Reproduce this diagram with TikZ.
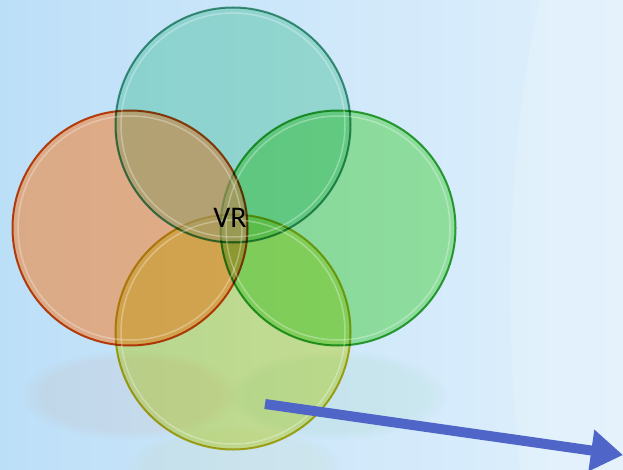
\documentclass[tikz,border=0pt]{standalone}
\usepackage{fontspec}
\setmainfont{Carlito}
\usepackage{xcolor}
\usetikzlibrary{
  arrows.meta,
  shapes,
  positioning,
  calc,
  backgrounds,
  fadings
}
\definecolor{vrBgL}{HTML}{BCDFF8}
\definecolor{vrBgR}{HTML}{E0F0FC}
\definecolor{vrTeal}{RGB}{182,236,212}
\definecolor{vrTealD}{RGB}{75,155,128}
\definecolor{vrOrange}{RGB}{255,183,138}
\definecolor{vrOrangeD}{RGB}{222,77,16}
\definecolor{vrGreen}{RGB}{170,240,160}
\definecolor{vrGreenD}{RGB}{56,170,61}
\definecolor{vrLime}{RGB}{240,242,148}
\definecolor{vrLimeD}{RGB}{203,182,31}
\definecolor{vrTan}{RGB}{196,164,118}
\definecolor{vrArrow}{HTML}{4F66C8}

\begin{document}
\begin{tikzpicture}[x=1pt, y=-1pt,
  disc/.style={circle, minimum size=235pt, inner sep=0pt, line width=2pt},
  rim/.style={draw=white, line width=1.5pt, opacity=0.3}]
  % background
  \shade[left color=vrBgL, right color=vrBgR] (0,0) rectangle (623,470);
  \fill[white, opacity=0.18] (623,0) -- (540,0) .. controls (505,150) and (505,330) .. (520,470) -- (623,470) -- cycle;
  \useasboundingbox (0,0) rectangle (623,470);
  % faint reflections
  \foreach \x/\y/\col in {130/395/vrOrangeD, 338/395/vrGreenD, 233/470/vrLimeD}{
    \fill[\col, opacity=0.06, path fading=circle with fuzzy edge 20 percent] (\x,\y) ellipse (110 and 45);
  }
  % lighter ground under the orange one
  \fill[white, opacity=0.45] (130,228) circle (117.5);
  % circles
  \begin{scope}[blend mode=multiply]
    \foreach \x/\y/\name/\col in {233/125/teal/vrTeal, 338/228/green/vrGreen, 130/228/orange/vrOrange, 233/332/lime/vrLime}{
      \node[disc, fill=\col, draw=\col D] (\name) at (\x,\y) {};
    }
  \end{scope}
  % warmer tone where orange lies on teal
  \begin{scope}
    \clip (teal.center) circle (116);
    \clip (orange.center) circle (116);
    \fill[vrTan, opacity=0.55] (orange.center) circle (116);
  \end{scope}
  \foreach \name in {teal, green, orange, lime}{
    \draw[rim] (\name.center) circle (112);
  }
  \node (vr) at (230,218) {\fontsize{30}{36}\selectfont VR};
  % arrow
  \coordinate (from) at (265,404);
  \coordinate (to) at (623,455);
  \draw[vrArrow, line width=10pt, -{Triangle[width=40pt, length=32pt]}] (from) -- (to);
\end{tikzpicture}
\end{document}
